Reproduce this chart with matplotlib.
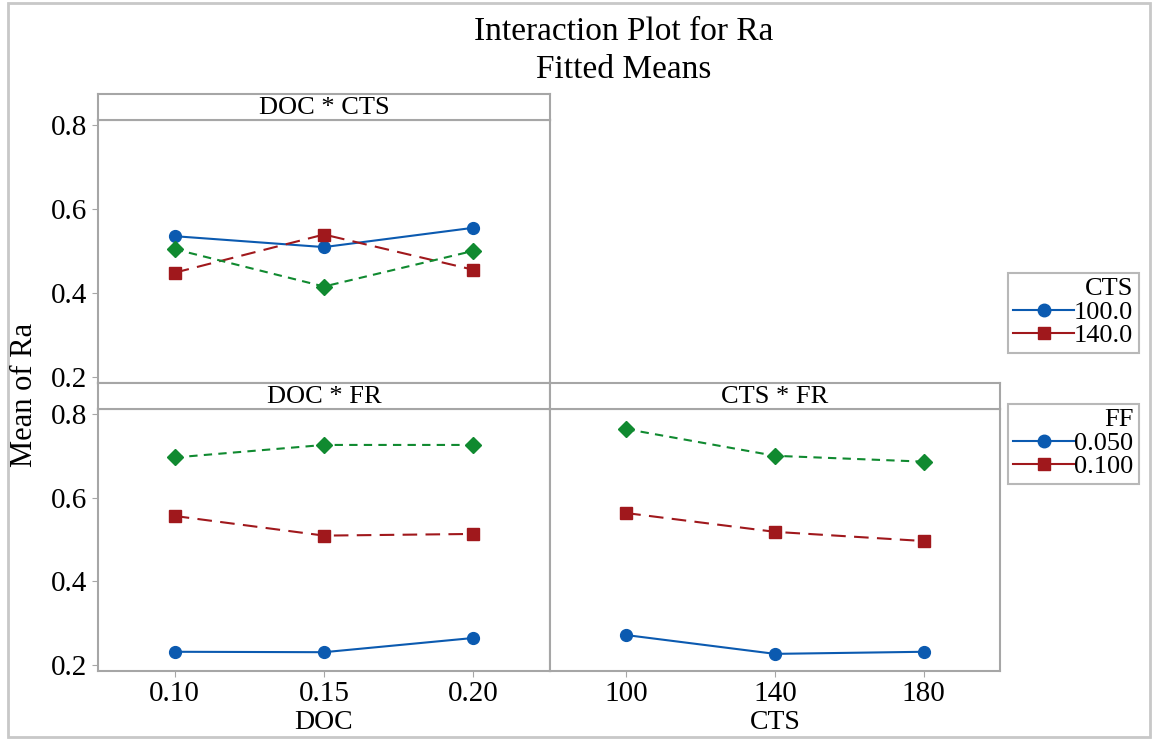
import matplotlib.pyplot as plt
from matplotlib.lines import Line2D
from matplotlib.patches import Rectangle

plt.rcParams['font.family'] = ['Liberation Serif', 'DejaVu Serif']

# data
doc = [0.10, 0.15, 0.20]
cts = [100, 140, 180]

doc_cts_100 = [0.535, 0.509, 0.555]
doc_cts_140 = [0.448, 0.539, 0.455]
doc_cts_180 = [0.504, 0.415, 0.500]

doc_fr_050 = [0.231, 0.230, 0.264]
doc_fr_100 = [0.556, 0.509, 0.513]
doc_fr_150 = [0.696, 0.726, 0.726]

cts_fr_050 = [0.271, 0.226, 0.231]
cts_fr_100 = [0.563, 0.518, 0.496]
cts_fr_150 = [0.764, 0.700, 0.686]

yticks = [0.2, 0.4, 0.6, 0.8]

W, H = 1154, 740
fig = plt.figure(figsize=(W / 100, H / 100), dpi=100)

grey = '#A6A6A6'
blue = '#0B5AB0'
red = '#A0181C'
green = '#108A30'
styles = [dict(color=blue, marker='o', ls='-'),
          dict(color=red, marker='s', ls=(0, (7, 4))),
          dict(color=green, marker='D', ls=(0, (4, 3)))]


def box(x0, y0, x1, y1):
    return [x0 / W, 1 - y1 / H, (x1 - x0) / W, (y1 - y0) / H]


def panel(x0, x1, y_strip, y0, y1, title):
    ax = fig.add_axes(box(x0, y0, x1, y1))
    for s in ax.spines.values():
        s.set_color(grey)
        s.set_linewidth(1.5)
    ax.tick_params(colors=grey, labelcolor='black', labelsize=21, length=4)
    st = fig.add_axes(box(x0, y_strip, x1, y0))
    st.set_xticks([])
    st.set_yticks([])
    for s in st.spines.values():
        s.set_color(grey)
        s.set_linewidth(1.5)
    st.text(0.5, 0.45, title, ha='center', va='center', fontsize=19,
            transform=st.transAxes)
    return ax


ax1 = panel(98, 550, 94, 120, 383, 'DOC * CTS')
ax2 = panel(98, 550, 383, 409, 671, 'DOC * FR')
ax3 = panel(550, 1000, 383, 409, 671, 'CTS * FR')

for ax, xs, series in [(ax1, doc, [doc_cts_100, doc_cts_140, doc_cts_180]),
                       (ax2, doc, [doc_fr_050, doc_fr_100, doc_fr_150]),
                       (ax3, cts, [cts_fr_050, cts_fr_100, cts_fr_150])]:
    for vals, st in zip(series, styles):
        ax.plot(xs, vals, lw=1.5, ms=8.5, **st)
    ax.set_ylim(0.185, 0.812)
    ax.set_yticks(yticks)
    ax.set_yticklabels([f'{v:.1f}' for v in yticks])

for ax in (ax1, ax2):
    ax.set_xlim(0.0743, 0.2257)
    ax.set_xticks(doc)
    ax.set_xticklabels([f'{v:.2f}' for v in doc])
ax3.set_xlim(79.5, 200.5)
ax3.set_xticks(cts)
ax3.set_xticklabels([str(v) for v in cts])

ax1.tick_params(axis='x', bottom=False, labelbottom=False)
ax3.tick_params(axis='y', left=False, labelleft=False)

ax2.set_xlabel('DOC', fontsize=20, labelpad=2)
ax3.set_xlabel('CTS', fontsize=20, labelpad=2)
fig.text(25 / W, 1 - 395 / H, 'Mean of Ra', rotation=90, fontsize=22,
         ha='center', va='center')

fig.text(624 / W, 1 - 32 / H, 'Interaction Plot for Ra', fontsize=24,
         ha='center', va='center')
fig.text(624 / W, 1 - 70 / H, 'Fitted Means', fontsize=24,
         ha='center', va='center')

h_blue = Line2D([], [], color=blue, marker='o', ms=9, lw=1.5)
h_red = Line2D([], [], color=red, marker='s', ms=9, lw=1.5)

for top, title, labels in [(273, 'CTS', ['100.0', '140.0']),
                           (404, 'FF', ['0.050', '0.100'])]:
    leg = fig.legend([h_blue, h_red], labels, title=title,
                     loc='upper left', bbox_to_anchor=(1008 / W, 1 - top / H),
                     fontsize=19, title_fontsize=19, frameon=True,
                     fancybox=False, edgecolor=grey, handlelength=2.3,
                     handletextpad=0.0, borderpad=0.2, labelspacing=0.0,
                     borderaxespad=0, alignment='right')
    leg.get_frame().set_linewidth(1.5)

fig.patches.append(Rectangle((8 / W, 3 / H), 1142 / W, 734 / H,
                             transform=fig.transFigure, fill=False,
                             edgecolor='#C8C8C8', lw=2))

fig.savefig('out.png', dpi=100)
